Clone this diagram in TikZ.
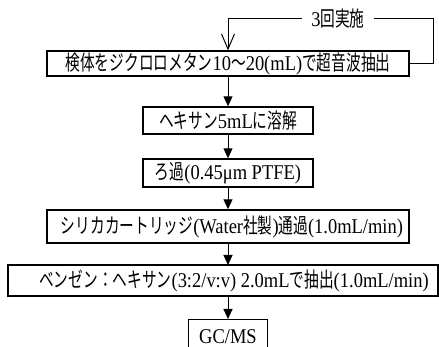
\documentclass[tikz,border=0pt]{standalone}
\usepackage{fontspec}
\setmainfont[FakeStretch=0.88]{Liberation Serif}
\newfontfamily\jpfont[FakeStretch=0.7]{Noto Sans CJK JP}
\newcommand\jtx[1]{{\jpfont #1}}
\usetikzlibrary{arrows.meta}
\begin{document}
\begin{tikzpicture}[x=1pt,y=-1pt,
  box/.style={draw, line width=1.4pt, inner sep=0pt, font=\fontsize{21}{21}\selectfont, anchor=center},
  flow/.style={line width=1pt, -{Triangle[length=10pt,width=9pt]}},
  loopline/.style={line width=1pt}
]
\useasboundingbox (0,0) rectangle (439,347);
\node[box, minimum width=362pt, minimum height=25pt] (b1) at (228,63.5)
  {\jtx{検体をジクロロメタン}10\jtx{～}20(mL)\jtx{で超音波抽出}};
\node[box, minimum width=170pt, minimum height=27pt] (b2) at (228,120.5)
  {\jtx{ヘキサン}5mL\jtx{に溶解}};
\node[box, minimum width=170pt, minimum height=28pt] (b3) at (228,173)
  {\jtx{ろ過}(0.45μm PTFE)};
\node[box, minimum width=362pt, minimum height=33pt] (b4) at (228,226.5)
  {\hspace*{8pt}\jtx{シリカカートリッジ}(Water\jtx{社製})\jtx{通過}(1.0mL/min)};
\node[box, minimum width=430pt, minimum height=31pt] (b5) at (223,280.5)
  {\hspace*{22pt}\jtx{ベンゼン：ヘキサン}(3:2/v:v) 2.0mL\jtx{で抽出}(1.0mL/min)};
\node[box, anchor=north, minimum width=79pt, text height=24pt, text depth=12pt] (b6) at (228,319)
  {GC/MS};
\node[font=\fontsize{21}{21}\selectfont, inner xsep=9pt, inner ysep=0pt] (lp) at (338,19) {3\jtx{回実施}};
\coordinate (lr) at (433,19);
\coordinate (ll) at (228,19);
\coordinate (a5) at (228,265);
\coordinate (a6) at (228,296);
\draw[loopline] (b1.east) -| (lr) -- (lp.east);
\draw[loopline, -{Straight Barb[length=15pt,width=13pt,line width=1pt]}] (lp.west) -- (ll) -- (b1.north);
\draw[flow] (b1.south) -- (b2.north);
\draw[flow] (b2.south) -- (b3.north);
\draw[flow] (b3.south) -- (b4.north);
\draw[flow] (b4.south) -- (a5);
\draw[flow] (a6) -- (b6.north);
\end{tikzpicture}
\end{document}
